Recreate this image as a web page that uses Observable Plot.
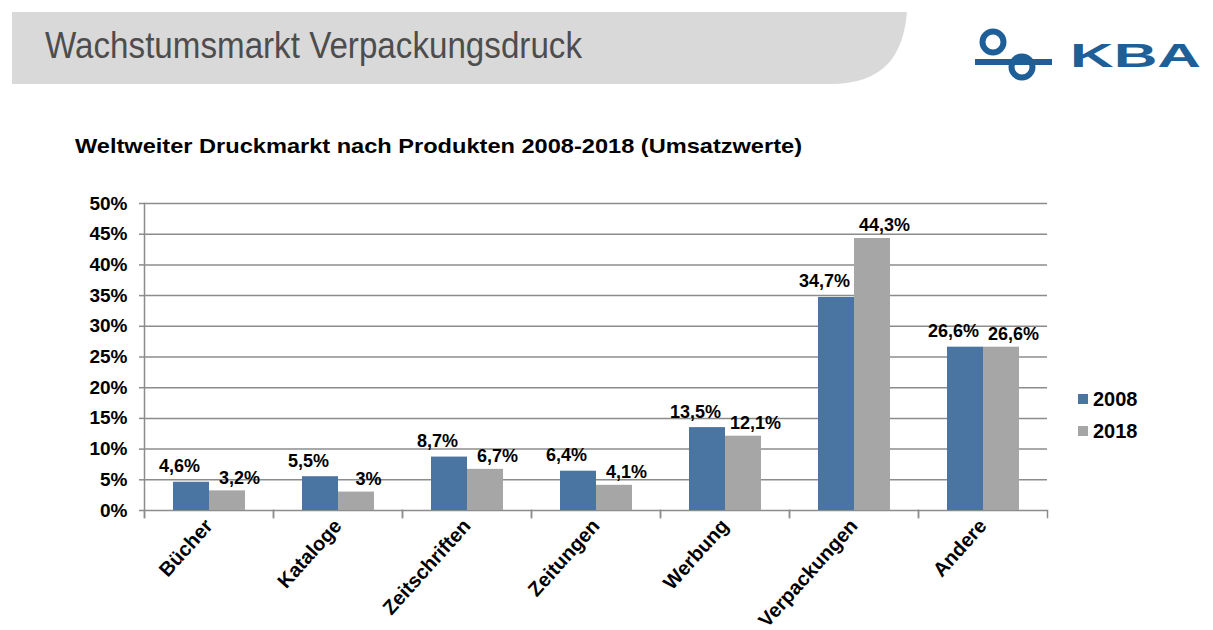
<!DOCTYPE html>
<html>
<head>
<meta charset="utf-8">
<script src="https://cdn.jsdelivr.net/npm/d3@7"></script>
<script src="https://cdn.jsdelivr.net/npm/@observablehq/plot@0.6"></script>
<style>
  html, body { margin: 0; padding: 0; background: #fff; }
  #page { position: relative; width: 1213px; height: 630px; overflow: hidden; font-family: "Liberation Sans", Arial, sans-serif; }
  #header { position: absolute; left: 0; top: 0; }
  #chart { position: absolute; left: 0; top: 190px; }
  #legend { position: absolute; left: 1078px; top: 389px; font-size: 20px; font-weight: bold; line-height: 20px; }
  #legend .item { display: flex; align-items: center; height: 20px; margin-bottom: 12px; }
  #legend .sw { width: 10px; height: 10px; margin-right: 5px; }
</style>
</head>
<body>
<div id="page">
  <svg id="header" width="1213" height="170">
    <path d="M12,12 H907 C903,58 882,84 830,84 H12 Z" fill="#d9d9d9"/>
    <text x="45" y="58" font-family="'Liberation Sans',Arial,sans-serif" font-size="36" fill="#4d4d4d" textLength="537" lengthAdjust="spacingAndGlyphs">Wachstumsmarkt Verpackungsdruck</text>
    <g stroke="#1f5f97" fill="none" stroke-width="6">
      <circle cx="993" cy="42" r="10.5"/>
      <line x1="975" y1="62" x2="1052" y2="62"/>
      <circle cx="1022" cy="67" r="10.5"/>
    </g>
    <text x="1070" y="67" font-family="'Liberation Sans',Arial,sans-serif" font-size="33" font-weight="bold" fill="#1f5f97" textLength="131" lengthAdjust="spacingAndGlyphs">KBA</text>
    <text x="75" y="153" font-family="'Liberation Sans',Arial,sans-serif" font-size="21" font-weight="bold" fill="#000" textLength="727" lengthAdjust="spacingAndGlyphs">Weltweiter Druckmarkt nach Produkten 2008-2018 (Umsatzwerte)</text>
  </svg>
  <div id="chart"></div>
  <div id="legend"></div>
</div>
<script>
// ---- data ----
const categories = ["Bücher", "Kataloge", "Zeitschriften", "Zeitungen", "Werbung", "Verpackungen", "Andere"];
const years = ["2008", "2018"];
const values2008 = [4.6, 5.5, 8.7, 6.4, 13.5, 34.7, 26.6];
const values2018 = [3.2, 3.0, 6.7, 4.1, 12.1, 44.3, 26.6];
const yTicks = [0, 5, 10, 15, 20, 25, 30, 35, 40, 45, 50];
const colors = ["#4a74a1", "#a6a6a6"];

// ---- build table ----
const rows = [];
categories.forEach((c, i) => {
  rows.push({cat: c, year: years[0], value: values2008[i]});
  rows.push({cat: c, year: years[1], value: values2018[i]});
});
const fmt = v => String(v).replace(".", ",") + "%";
const gridColor = "#8c8c8c";

const plot = Plot.plot({
  width: 1070,
  height: 440,
  marginLeft: 142,
  marginRight: 21,
  marginTop: 13,
  marginBottom: 120,
  style: {fontFamily: "'Liberation Sans', Arial, sans-serif", background: "transparent"},
  fx: {domain: categories, padding: 0, label: null},
  x: {domain: years, paddingInner: 0, paddingOuter: 0.75, axis: null},
  y: {domain: [0, 50], label: null},
  color: {domain: years, range: colors},
  marks: [
    Plot.gridY(yTicks, {stroke: gridColor, strokeOpacity: 1, strokeWidth: 1.5}),
    Plot.barY(rows, {fx: "cat", x: "year", y: "value", fill: "year"}),
    Plot.text(rows.filter(d => d.year === years[0]), {
      fx: "cat", x: "year", y: "value", text: d => fmt(d.value),
      lineAnchor: "bottom", dy: -10, dx: -12, fontSize: 18, fontWeight: "bold", fill: "#000"
    }),
    Plot.text(rows.filter(d => d.year === years[1]), {
      fx: "cat", x: "year", y: "value", text: d => fmt(d.value),
      lineAnchor: "bottom", dy: -7, dx: 12, fontSize: 18, fontWeight: "bold", fill: "#000"
    }),
    Plot.frame({anchor: "left", stroke: gridColor, strokeWidth: 1.5, insetTop: 307, insetBottom: -7}),
    Plot.frame({anchor: "right", stroke: gridColor, strokeWidth: 1.5, insetTop: 307, insetBottom: -7}),
    Plot.frame({anchor: "left", facet: "super", stroke: gridColor, strokeWidth: 1.5, insetBottom: -7}),
    Plot.axisY(yTicks, {
      tickSize: 5, tickPadding: 12, tickFormat: d => d + "%", label: null,
      stroke: gridColor, strokeWidth: 1.5, fill: "#000", fontSize: 19, fontWeight: "bold"
    }),
    Plot.axisFx({
      anchor: "bottom", tickSize: 0, tickRotate: -48, tickPadding: 12, label: null,
      fontSize: 20, fontWeight: "bold", fill: "#000"
    })
  ]
});
document.getElementById("chart").appendChild(plot);

// ---- legend ----
const legend = d3.select("#legend");
years.forEach((y, i) => {
  const item = legend.append("div").attr("class", "item");
  item.append("div").attr("class", "sw").style("background", colors[i]);
  item.append("span").text(y);
});
</script>
</body>
</html>
